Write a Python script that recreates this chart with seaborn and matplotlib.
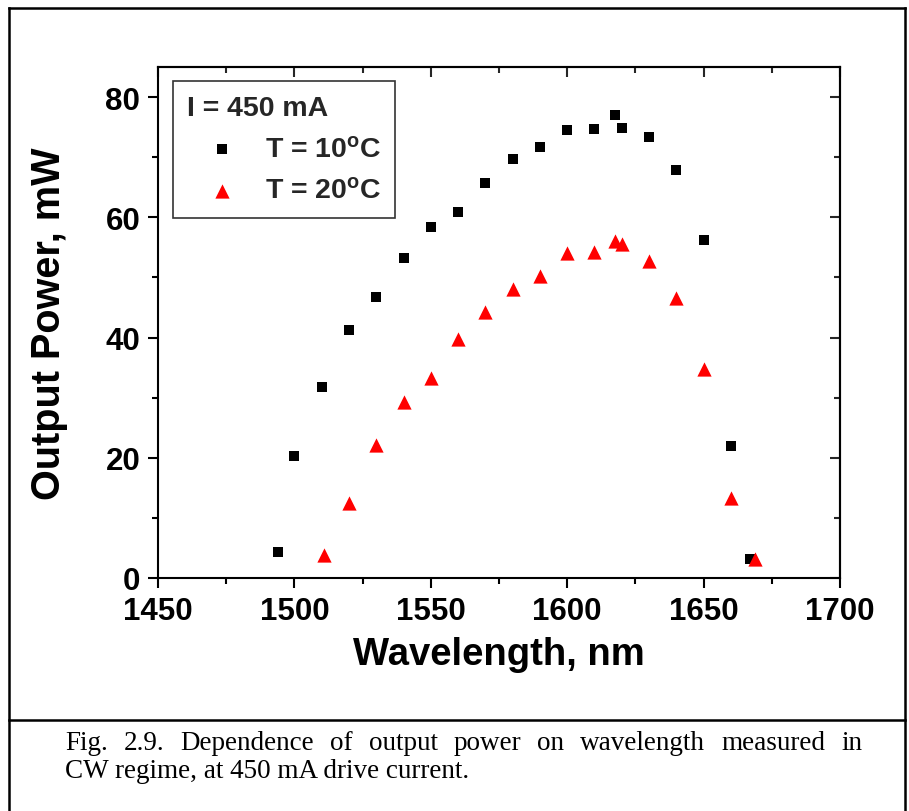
import numpy as np
import pandas as pd
import matplotlib
matplotlib.use("Agg")
import matplotlib.pyplot as plt
import seaborn as sns
from matplotlib.lines import Line2D
from matplotlib.ticker import MultipleLocator

# ---- data ----
wl_10 = [1494, 1500, 1510, 1520, 1530, 1540, 1550, 1560, 1570, 1580, 1590,
         1600, 1610, 1617.5, 1620, 1630, 1640, 1650, 1660, 1667]
p_10 = [4.3, 20.3, 31.8, 41.2, 46.8, 53.3, 58.4, 60.9, 65.7, 69.7, 71.7,
        74.5, 74.7, 77.0, 74.9, 73.3, 67.8, 56.2, 22.0, 3.2]
wl_20 = [1511, 1520, 1530, 1540, 1550, 1560, 1570, 1580, 1590, 1600, 1610,
         1617.5, 1620, 1630, 1640, 1650, 1660, 1669]
p_20 = [3.8, 12.4, 22.2, 29.2, 33.3, 39.8, 44.2, 48.0, 50.3, 54.1, 54.3,
        56.1, 55.5, 52.7, 46.5, 34.8, 13.3, 3.2]
label_10 = r"T = 10$^{\mathrm{o}}$C"
label_20 = r"T = 20$^{\mathrm{o}}$C"
legend_title = "I = 450 mA"
x_label = "Wavelength, nm"
y_label = "Output Power, mW"
caption_1 = "Fig. 2.9. Dependence of output power on wavelength measured in"
caption_2 = "CW regime, at 450 mA drive current."

sns.set_theme(style="ticks")
plt.rcParams['font.family'] = ['Liberation Sans', 'DejaVu Sans']
plt.rcParams['mathtext.fontset'] = 'custom'
plt.rcParams['mathtext.rm'] = 'Liberation Sans:bold'
plt.rcParams['mathtext.it'] = 'Liberation Sans:bold'
plt.rcParams['mathtext.bf'] = 'Liberation Sans:bold'

W, H = 909, 812
fig = plt.figure(figsize=(W / 100, H / 100), dpi=100)
fig.patch.set_facecolor('white')

L, R, T, B = 158, 840, 68, 579
ax = fig.add_axes([L / W, 1 - B / H, (R - L) / W, (B - T) / H])

df10 = pd.DataFrame({'wl': wl_10, 'p': p_10})
df20 = pd.DataFrame({'wl': wl_20, 'p': p_20})
sns.scatterplot(data=df10, x='wl', y='p', marker='s', s=55, color='black',
                linewidth=0, ax=ax, label=label_10, zorder=3)
sns.scatterplot(data=df20, x='wl', y='p', marker='^', s=105, color='#ff0000',
                linewidth=0, ax=ax, label=label_20, zorder=3)

ax.set_xlim(1450, 1700)
ax.set_ylim(0, 85)
ax.xaxis.set_major_locator(MultipleLocator(50))
ax.xaxis.set_minor_locator(MultipleLocator(25))
ax.yaxis.set_major_locator(MultipleLocator(20))
ax.yaxis.set_minor_locator(MultipleLocator(10))
ax.tick_params(which='major', direction='out', length=7.2, width=1.5,
               labelsize=22.5, pad=5.5, color='black', labelcolor='black')
ax.tick_params(which='minor', direction='out', length=4.3, width=1.5, color='black')
for lbl in ax.get_xticklabels() + ax.get_yticklabels():
    lbl.set_fontweight('bold')
for sp in ax.spines.values():
    sp.set_visible(True)
    sp.set_linewidth(1.5)
    sp.set_color('black')

# mirrored ticks pointing inward on top/right
secx = ax.secondary_xaxis('top')
secx.xaxis.set_major_locator(MultipleLocator(50))
secx.xaxis.set_minor_locator(MultipleLocator(25))
secx.tick_params(which='major', direction='in', length=7.2, width=1.5, labeltop=False)
secx.tick_params(which='minor', direction='in', length=4.3, width=1.5, labeltop=False)
secx.spines['top'].set_linewidth(1.5)
secy = ax.secondary_yaxis('right')
secy.yaxis.set_major_locator(MultipleLocator(20))
secy.yaxis.set_minor_locator(MultipleLocator(10))
secy.tick_params(which='major', direction='in', length=7.2, width=1.5, labelright=False)
secy.tick_params(which='minor', direction='in', length=4.3, width=1.5, labelright=False)
secy.spines['right'].set_linewidth(1.5)

ax.set_xlabel(x_label, fontsize=27.5, fontweight='bold', color='black')
ax.set_ylabel(y_label, fontsize=28.5, fontweight='bold', color='black')
ax.xaxis.set_label_coords(0.5, (B - 637) / (B - T))
ax.yaxis.set_label_coords((68 - L) / (R - L), 0.5)

h, l = ax.get_legend_handles_labels()
leg = ax.legend(h, l, title=legend_title, loc='upper left',
                bbox_to_anchor=((173 - L) / (R - L), (B - 82) / (B - T)),
                bbox_transform=ax.transAxes, borderaxespad=0, frameon=True,
                fancybox=False, edgecolor='#333333', framealpha=1,
                prop={'weight': 'bold', 'size': 20.5},
                title_fontproperties={'weight': 'bold', 'size': 20.5},
                alignment='left', borderpad=0.48, labelspacing=0.55,
                handlelength=2.5, handletextpad=0.26)
leg.get_frame().set_linewidth(1.2)

# outer frame and caption separator
def fx(x):
    return x / W

def fy(y):
    return 1 - y / H

lw = 1.8
for (x0, y0, x1, y1) in [(8.5, 8.5, 904.5, 8.5), (8.5, 8.5, 8.5, 812),
                         (904.5, 8.5, 904.5, 812), (8.5, 721, 904.5, 721)]:
    fig.add_artist(Line2D([fx(x0), fx(x1)], [fy(y0), fy(y1)], color='black',
                          lw=lw, transform=fig.transFigure, solid_capstyle='projecting'))

cap_font = dict(family='Liberation Serif', fontsize=19.5, color='black', va='baseline')
renderer = fig.canvas.get_renderer()
words = caption_1.split()
texts = [fig.text(0, fy(750), w, **cap_font) for w in words]
widths = [t.get_window_extent(renderer).width for t in texts]
x_start, x_end = 65, 862
gap = (x_end - x_start - sum(widths)) / (len(words) - 1)
xc = x_start
for t, wd in zip(texts, widths):
    t.set_x(fx(xc))
    xc += wd + gap
fig.text(fx(65), fy(778), caption_2, **cap_font)

fig.savefig('out.png', dpi=100)
